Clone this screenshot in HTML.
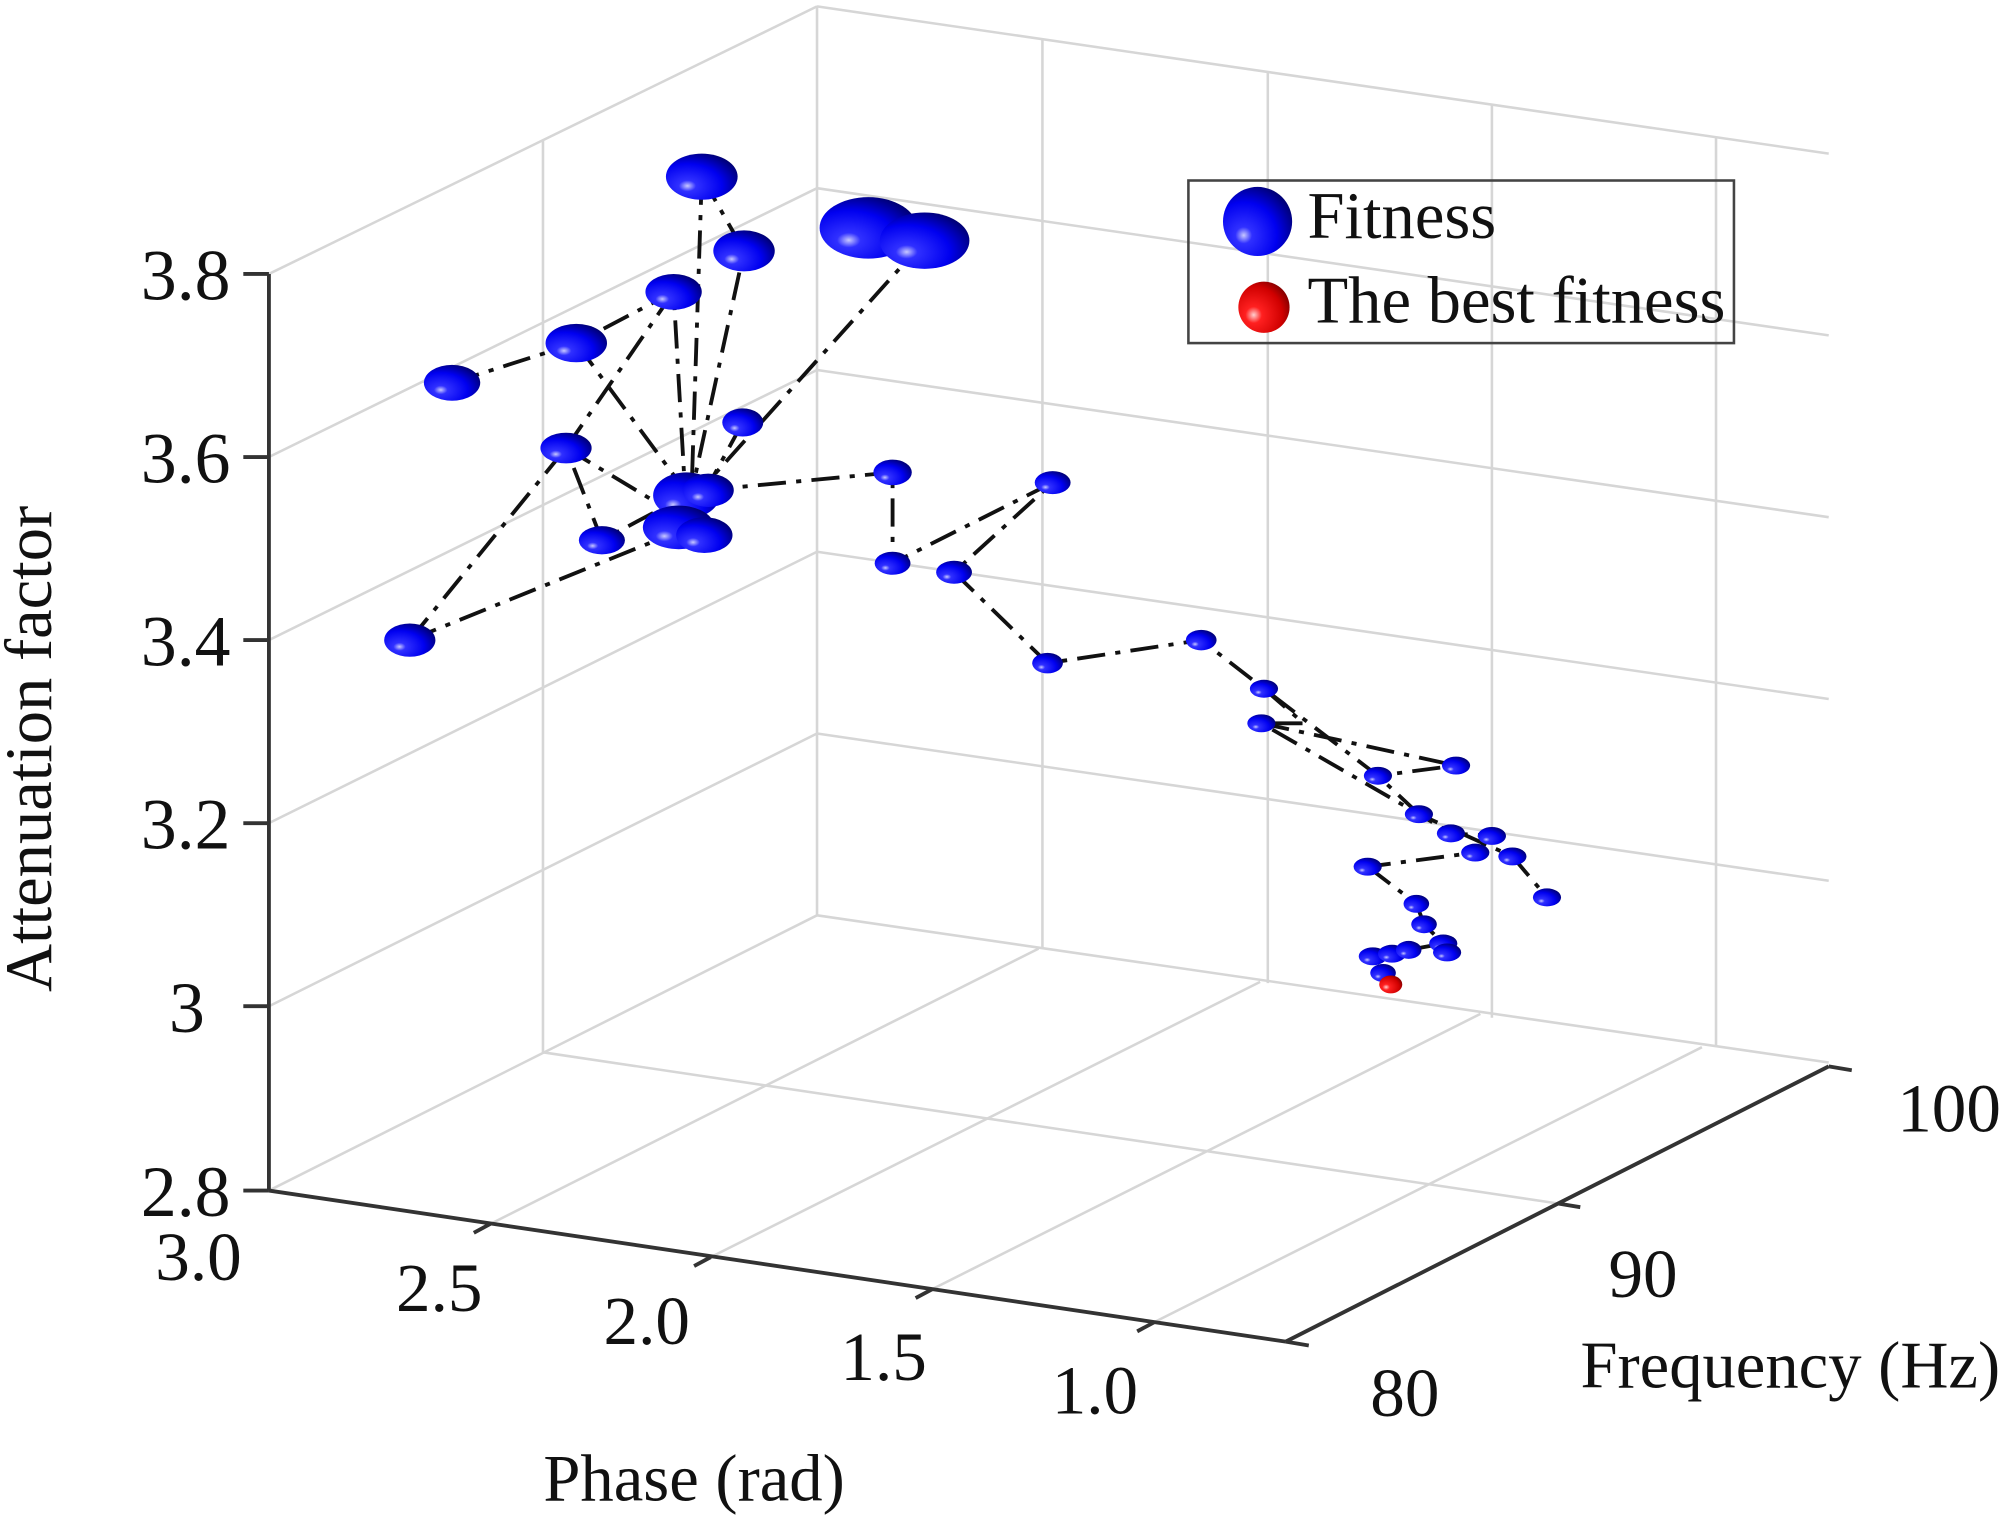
<!DOCTYPE html>
<html><head><meta charset="utf-8"><style>
html,body{margin:0;padding:0;background:#fff;}
svg{display:block;}
text{font-family:"Liberation Serif","DejaVu Serif",serif;fill:#111;}
</style></head><body>
<svg width="2008" height="1517" viewBox="0 0 1568 1185" preserveAspectRatio="none" xmlns="http://www.w3.org/2000/svg">
<defs>
<radialGradient id="bl" cx="0.3" cy="0.7" r="0.8">
<stop offset="0" stop-color="#c8c8ff"/><stop offset="0.15" stop-color="#3030ff"/><stop offset="0.6" stop-color="#0000f0"/><stop offset="1" stop-color="#00006a"/>
</radialGradient>
<radialGradient id="rd" cx="0.3" cy="0.65" r="0.8">
<stop offset="0" stop-color="#ffd0d0"/><stop offset="0.2" stop-color="#ff2020"/><stop offset="0.7" stop-color="#d00000"/><stop offset="1" stop-color="#700000"/>
</radialGradient>
</defs>
<g stroke="#d6d6d6" stroke-width="2" fill="none">
<!-- left wall z lines -->
<line x1="210" y1="214" x2="638" y2="5"/><line x1="210" y1="357" x2="638" y2="147"/><line x1="210" y1="500" x2="638" y2="289"/><line x1="210" y1="643" x2="638" y2="431"/><line x1="210" y1="786" x2="638" y2="573"/><line x1="210" y1="930" x2="638" y2="715"/>
<!-- back corner & left wall vertical -->
<line x1="638" y1="5" x2="638" y2="715"/><line x1="424" y1="110" x2="424" y2="822"/>
<!-- right wall z lines -->
<line x1="638" y1="5" x2="1428" y2="120"/><line x1="638" y1="147" x2="1428" y2="262"/><line x1="638" y1="289" x2="1428" y2="404"/><line x1="638" y1="431" x2="1428" y2="546"/><line x1="638" y1="573" x2="1428" y2="688"/><line x1="638" y1="715" x2="1428" y2="830"/>
<!-- right wall verticals -->
<line x1="814" y1="31" x2="814" y2="741"/><line x1="990" y1="56" x2="990" y2="768"/><line x1="1165" y1="82" x2="1165" y2="795"/><line x1="1340" y1="107" x2="1340" y2="818"/>
<!-- floor -->
<line x1="424" y1="822" x2="1216" y2="940"/>
<line x1="383" y1="956" x2="811" y2="741"/><line x1="555" y1="982" x2="984" y2="767"/><line x1="728" y1="1007" x2="1156" y2="792"/><line x1="901" y1="1033" x2="1329" y2="818"/>
</g>
<g stroke="#333" stroke-width="3" fill="none">
<line x1="210" y1="214" x2="210" y2="930"/>
<line x1="190" y1="214" x2="210" y2="214"/><line x1="190" y1="357" x2="210" y2="357"/><line x1="190" y1="500" x2="210" y2="500"/><line x1="190" y1="643" x2="210" y2="643"/><line x1="190" y1="786" x2="210" y2="786"/><line x1="190" y1="930" x2="210" y2="930"/>
<line x1="210" y1="930" x2="1004" y2="1048"/>
<line x1="1004" y1="1048" x2="1428" y2="833"/>
<line x1="383" y1="956" x2="370" y2="963"/><line x1="555" y1="982" x2="542" y2="989"/><line x1="728" y1="1007" x2="715" y2="1014"/><line x1="901" y1="1033" x2="888" y2="1040"/>
<line x1="1004" y1="1048" x2="1022" y2="1051"/><line x1="1216" y1="940" x2="1234" y2="943"/><line x1="1428" y1="833" x2="1446" y2="836"/>
</g>
<g font-size="56" text-anchor="end">
<text x="180" y="234">3.8</text><text x="180" y="377">3.6</text><text x="180" y="520">3.4</text><text x="180" y="663">3.2</text><text x="160" y="806">3</text><text x="180" y="950">2.8</text>
</g>
<g font-size="54" text-anchor="middle">
<text x="155" y="1000">3.0</text><text x="343" y="1024">2.5</text><text x="505" y="1050">2.0</text><text x="690" y="1078">1.5</text><text x="855" y="1104">1.0</text>
<text x="1097" y="1106">80</text><text x="1283" y="1013">90</text><text x="1522" y="884">100</text>
</g>
<text x="542" y="1172" font-size="52" text-anchor="middle">Phase (rad)</text>
<text x="1398" y="1084" font-size="52" text-anchor="middle">Frequency (Hz)</text>
<text transform="translate(40,585) rotate(-90)" font-size="52" text-anchor="middle">Attenuation factor</text>
<!-- lines -->
<g stroke="#111" stroke-width="3" fill="none" stroke-dasharray="22,8,4,8">
<polyline points="353,299 450,268 526,228 535,385"/>
<polyline points="548,138 581,196 540,385"/>
<line x1="548" y1="138" x2="540" y2="385"/>
<line x1="526" y1="228" x2="442" y2="350"/>
<line x1="450" y1="268" x2="540" y2="390"/>
<line x1="722" y1="188" x2="545" y2="385"/>
<line x1="580" y1="330" x2="550" y2="385"/>
<polyline points="320,500 442,350 470,422 530,390"/>
<line x1="442" y1="350" x2="545" y2="412"/>
<line x1="320" y1="500" x2="530" y2="415"/>
<polyline points="550,383 697,369 697,440 822,377 745,447 818,518 938,500 987,538 1076,606 1108,636 1133,651 1165,653 1152,666 1068,677"/>
<polyline points="985,565 1137,598 1076,606"/>
<polyline points="987,538 1018,565 985,565 1108,636 1181,669 1208,701"/>
<polyline points="1068,677 1106,706 1112,722 1127,737 1100,742 1072,747 1080,760 1086,769"/>
</g>
<!-- spheres -->
<g fill="url(#bl)">
<ellipse cx="548" cy="138" rx="28" ry="18"/><ellipse cx="678" cy="178" rx="38" ry="24"/><ellipse cx="722" cy="188" rx="35" ry="22"/>
<ellipse cx="581" cy="196" rx="24" ry="16"/><ellipse cx="526" cy="228" rx="22" ry="14"/><ellipse cx="450" cy="268" rx="24" ry="15"/>
<ellipse cx="353" cy="299" rx="22" ry="14"/><ellipse cx="442" cy="350" rx="20" ry="12"/><ellipse cx="580" cy="330" rx="16" ry="11"/>
<ellipse cx="536" cy="387" rx="26" ry="18"/><ellipse cx="553" cy="383" rx="20" ry="13"/><ellipse cx="470" cy="422" rx="18" ry="11"/>
<ellipse cx="530" cy="412" rx="28" ry="17"/><ellipse cx="550" cy="418" rx="22" ry="14"/><ellipse cx="320" cy="500" rx="20" ry="13"/>
<ellipse cx="697" cy="369" rx="15" ry="10"/><ellipse cx="822" cy="377" rx="14" ry="9"/><ellipse cx="697" cy="440" rx="14" ry="9"/>
<ellipse cx="745" cy="447" rx="14" ry="9"/><ellipse cx="818" cy="518" rx="12" ry="8"/><ellipse cx="938" cy="500" rx="12" ry="8"/>
<ellipse cx="987" cy="538" rx="11" ry="7"/><ellipse cx="985" cy="565" rx="11" ry="7"/><ellipse cx="1076" cy="606" rx="11" ry="7"/>
<ellipse cx="1137" cy="598" rx="11" ry="7"/><ellipse cx="1108" cy="636" rx="11" ry="7"/><ellipse cx="1133" cy="651" rx="11" ry="7"/>
<ellipse cx="1165" cy="653" rx="11" ry="7"/><ellipse cx="1152" cy="666" rx="11" ry="7"/><ellipse cx="1181" cy="669" rx="11" ry="7"/>
<ellipse cx="1208" cy="701" rx="11" ry="7"/><ellipse cx="1068" cy="677" rx="11" ry="7"/><ellipse cx="1106" cy="706" rx="10" ry="7"/>
<ellipse cx="1112" cy="722" rx="10" ry="7"/><ellipse cx="1127" cy="737" rx="11" ry="7"/><ellipse cx="1130" cy="744" rx="11" ry="7"/>
<ellipse cx="1072" cy="747" rx="11" ry="7"/><ellipse cx="1087" cy="745" rx="11" ry="7"/><ellipse cx="1100" cy="742" rx="10" ry="7"/>
<ellipse cx="1080" cy="760" rx="10" ry="7"/>
</g>
<ellipse cx="1086" cy="769" rx="9" ry="7" fill="url(#rd)"/>
<!-- legend -->
<rect x="928" y="141" width="426" height="127" fill="none" stroke="#444" stroke-width="2"/>
<circle cx="982" cy="173" r="27" fill="url(#bl)"/>
<circle cx="987" cy="240" r="20" fill="url(#rd)"/>
<text x="1021" y="186" font-size="52">Fitness</text>
<text x="1021" y="252" font-size="52">The best fitness</text>
</svg>
</body></html>
